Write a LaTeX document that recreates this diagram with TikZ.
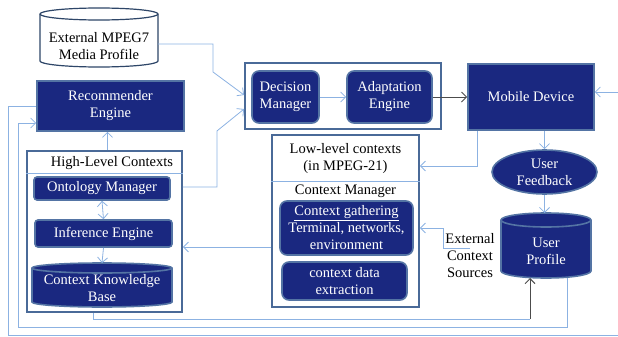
\documentclass[tikz,border=0pt]{standalone}
\usepackage{fontspec}
\setmainfont{Liberation Serif}
\usepackage{tikz}
\usetikzlibrary{arrows.meta,shapes.geometric}

\definecolor{navy}{RGB}{26,40,128}
\definecolor{rimblue}{RGB}{84,116,164}
\definecolor{framblue}{RGB}{74,106,152}
\definecolor{linkblue}{RGB}{140,178,226}
\definecolor{slate}{RGB}{46,70,104}

% upright drum drawn round a node: node, half width, cap radius, style
\newcommand\storedrum[4]{%
  \path[#4] ([yshift=-#3]#1.north west) -- ([yshift=#3]#1.south west)
    arc[start angle=180, end angle=360, x radius=#2, y radius=#3]
    -- ([yshift=-#3]#1.north east)
    arc[start angle=0, end angle=180, x radius=#2, y radius=#3] -- cycle;
  \draw[#4, fill=none] ([yshift=-#3]#1.north west)
    arc[start angle=180, end angle=360, x radius=#2, y radius=#3];}

\begin{document}
\begin{tikzpicture}[x=1pt, y=-1pt,
    >={Straight Barb[length=5pt,width=10pt]},
    every node/.style={font=\fontsize{14.5}{17}\selectfont},
    dark/.style={fill=navy, draw=rimblue, line width=1.6pt, text=white, align=center, inner sep=1pt},
    frame/.style={draw=framblue, line width=1.8pt, fill=white},
    bounds/.style={inner sep=0pt, outer sep=0pt},
    plain/.style={align=center, inner sep=0pt},
    divider/.style={draw=linkblue, line width=0.9pt},
    conn/.style={draw=linkblue, line width=0.8pt, ->},
    greyconn/.style={draw=black!70, line width=1pt, ->}]
  \useasboundingbox (0,0) rectangle (618,337);

  \node[bounds, minimum width=118pt, minimum height=59pt] (mpeg) at (99,37.5) {};
  \storedrum{mpeg}{59pt}{6pt}{fill=white, draw=slate, line width=1.2pt}
  \node[plain] (mpegtext) at (99,46.5) {External MPEG7\\Media Profile};
  \node[dark, minimum width=147pt, minimum height=50pt] (rec) at (110.5,106) {Recommender\\Engine};

  \node[frame, minimum width=155pt, minimum height=161pt] (hl) at (104.5,231.5) {};
  \draw[divider] (hl.west |- 0,173) -- (hl.east |- 0,173);
  \node[plain] (hltitle) at (112,163) {High-Level Contexts};
  \node[dark, rounded corners=3pt, minimum width=136pt, minimum height=23pt] (onto) at (102,188.5) {Ontology Manager};
  \node[dark, rounded corners=3pt, minimum width=137pt, minimum height=27pt] (inf) at (103.5,233.5) {Inference Engine};
  \node[bounds, minimum width=140pt, minimum height=44pt] (ckb) at (102,285) {};
  \storedrum{ckb}{70pt}{5pt}{dark}
  \node[plain, text=white] (ckbtext) at (102,288.5) {Context Knowledge\\Base};

  \node[frame, minimum width=196pt, minimum height=66pt] (dmbox) at (343,96) {};
  \node[dark, rounded corners=7pt, minimum width=67pt, minimum height=52pt] (dm) at (285.5,97) {Decision\\Manager};
  \node[dark, rounded corners=7pt, minimum width=85pt, minimum height=52pt] (ad) at (389.5,97) {Adaptation\\Engine};

  \node[dark, minimum width=126pt, minimum height=66pt] (mob) at (531,97) {Mobile Device};
  \node[dark, ellipse, minimum width=105pt, minimum height=44pt] (fb) at (544.5,172) {User\\Feedback};
  \node[bounds, minimum width=90pt, minimum height=65pt] (up) at (546,245.5) {};
  \storedrum{up}{45pt}{7pt}{dark}
  \node[plain, text=white] (uptext) at (546,251) {User\\Profile};

  \node[frame, minimum width=147pt, minimum height=172pt] (ll) at (345.5,221) {};
  \draw[divider] (ll.west |- 0,181) -- (ll.east |- 0,181);
  \node[plain] (lltitle) at (345.5,159) {Low-level contexts\\(in MPEG-21)};
  \node[plain] (cmtitle) at (345.5,191) {Context Manager};
  \node[dark, rounded corners=7pt, minimum width=133pt, minimum height=54pt] (cg) at (346.5,228) {\underline{Context gathering}\\Terminal, networks,\\environment};
  \node[dark, rounded corners=7pt, minimum width=125pt, minimum height=38pt] (cx) at (344.5,281) {context data\\extraction};
  \node[plain] (ext) at (470,256) {External\\Context\\Sources};

  \coordinate (extin) at (470,248);
  \coordinate (upin) at ([xshift=-16pt]up.south);
  \coordinate (llin) at ([yshift=-26pt]ll.west);

  \draw[conn] ([xshift=3pt]hl.north) -- ([xshift=3pt]hl.north |- rec.south);
  \draw[conn, <->] (onto.south) -- (inf.north);
  \draw[conn] (inf.south) -- (ckb.north);
  \draw[conn] ([yshift=-6.5pt]mpeg.east) -- ++(55,0) -- ++(0,28) -- ([yshift=1pt]dmbox.west);
  \draw[conn] ([yshift=44.5pt]hl.east) -- ++(34,0) -- ++(0,-56) -- ([yshift=-13pt]dmbox.west);
  \draw[conn] (dm.east) -- (ad.west);
  \draw[greyconn] (ad.east) -- (mob.west);
  \draw[conn] (fb.north |- mob.south) -- (fb.north);
  \draw[conn] (fb.south) -- (fb.south |- up.north);
  \draw[conn] ([xshift=-54pt]mob.south) |- ([yshift=55pt]ll.east);
  \draw[conn] (extin) -- ++(-27,0) |- (cg.east -| ll.east);
  \draw[conn] (llin) -- (llin -| hl.east);
  \draw[conn] (rec.west) -| (8,335) -| (622,92) -- ([yshift=5pt]mob.east);
  \draw[conn] ([xshift=21pt]up.south) |- (18,327) |- ([yshift=-17pt]rec.west);
  \draw[conn, -] ([xshift=-11.5pt]hl.south) |- (upin |- 0,319) coordinate (jn);
  \draw[greyconn] (jn) -- (upin);
\end{tikzpicture}
\end{document}
